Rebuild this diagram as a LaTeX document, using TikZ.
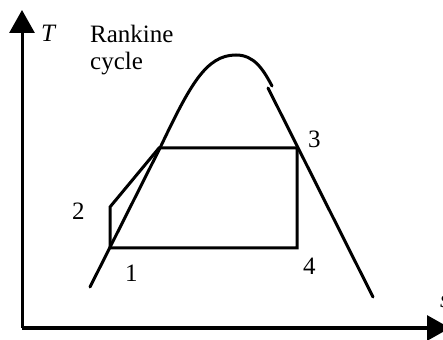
\documentclass[tikz,border=0pt]{standalone}
\usepackage{fontspec}
\setmainfont{Liberation Serif}
\usepackage{tikz}
\usetikzlibrary{arrows.meta}

\begin{document}
\begin{tikzpicture}[
  x=1pt, y=1pt,
  axis/.style={line width=3pt, -{Triangle[length=23pt,width=25pt]}},
  curve/.style={line width=3pt, line cap=round},
  cyc/.style={line width=3pt, line join=miter},
  lbl/.style={anchor=base west, inner sep=0pt, font=\fontsize{25}{29}\selectfont}
]
\useasboundingbox (0,0) rectangle (443,339);

% axes
\coordinate (origin) at (22,11);
\coordinate (tmax)   at (22,329);
\coordinate (smax)   at (450,11);
\draw[axis] (origin) -- (tmax);
\draw[axis] (origin) -- (smax);
\node[lbl] (tlab) at (41,297) {\textit{T}};
\node[lbl] (slab) at (440,31) {\textit{s}};

% saturation dome
\coordinate (liqlow) at (90,52);
\coordinate (liqtop) at (160,191);
\coordinate (peak)   at (236,284);
\coordinate (vapbrk) at (272,253);
\coordinate (vaptop) at (268,251);
\coordinate (vaplow) at (373,42);
\draw[curve] (liqlow) -- (liqtop)
  .. controls (190,254) and (206,284) .. (peak)
  .. controls (254,284) and (263,270) .. (vapbrk);
\draw[curve] (vaptop) -- (vaplow);

% cycle
\coordinate (p1) at (110,91);
\coordinate (p2) at (110,132);
\coordinate (p2b) at (159,191);
\coordinate (p3) at (297,191);
\coordinate (p4) at (297,91);
\draw[cyc] (p1) -- (p2) -- (p2b) -- (p3) -- (p4) -- cycle;

% labels
\node[lbl] (title1) at (90,296) {Rankine};
\node[lbl] (title2) at (90,269) {cycle};
\node[lbl] (n1) at (125,57) {1};
\node[lbl] (n2) at (72,119) {2};
\node[lbl] (n3) at (308,191) {3};
\node[lbl] (n4) at (303,64) {4};

\end{tikzpicture}
\end{document}
